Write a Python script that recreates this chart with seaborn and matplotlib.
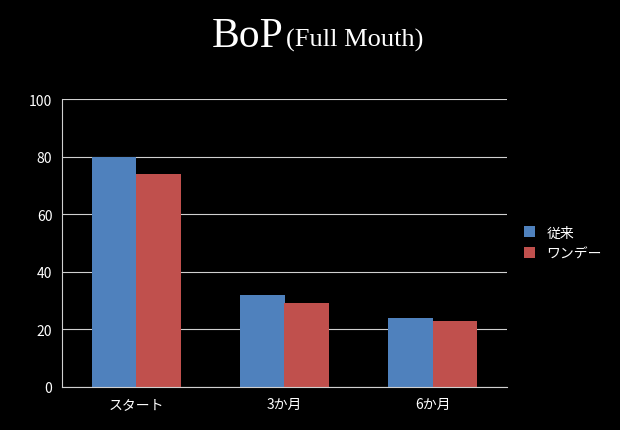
import pandas as pd
import seaborn as sns
from matplotlib import pyplot as plt

# Data
periods = ['スタート', '3か月', '6か月']
series_names = ['従来', 'ワンデー']
conventional = [80, 32, 24]
oneday = [74, 29, 23]

df = pd.DataFrame({
    'period': periods * 2,
    'group': [series_names[0]] * 3 + [series_names[1]] * 3,
    'value': conventional + oneday,
})

sns.set_style('dark')
plt.rcParams['font.family'] = ['Noto Sans CJK JP', 'DejaVu Sans']

fig = plt.figure(figsize=(6.2, 4.31), dpi=100, facecolor='black')
ax = fig.add_axes([62 / 620, 1 - 388 / 431, 445 / 620, 288 / 431])
ax.set_facecolor('black')

sns.barplot(data=df, x='period', y='value', hue='group',
            palette=['#4F81BD', '#C0504D'], width=0.6, saturation=1,
            edgecolor='none', linewidth=0, ax=ax)

ax.set_ylim(0, 100)
ax.set_yticks(range(0, 101, 20))
ax.yaxis.grid(True, color='#d0d0d0', linewidth=0.8)
ax.set_axisbelow(True)
ax.set_xlabel('')
ax.set_ylabel('')
ax.tick_params(colors='white', labelsize=10)
for s in ['top', 'right']:
    ax.spines[s].set_visible(False)
for s in ['left', 'bottom']:
    ax.spines[s].set_color('#d0d0d0')

leg = ax.legend(loc='center left', bbox_to_anchor=(1.01, 0.5), frameon=False,
                fontsize=10, handlelength=0.8, handleheight=0.8)
for t in leg.get_texts():
    t.set_color('white')

fig.text(0.457, 0.915, 'BoP', family='Liberation Serif', fontsize=30,
         color='white', ha='right', va='center')
fig.text(0.462, 0.905, '(Full Mouth)', family='Liberation Serif', fontsize=19,
         color='white', ha='left', va='center')

plt.savefig('out.png', facecolor='black')
